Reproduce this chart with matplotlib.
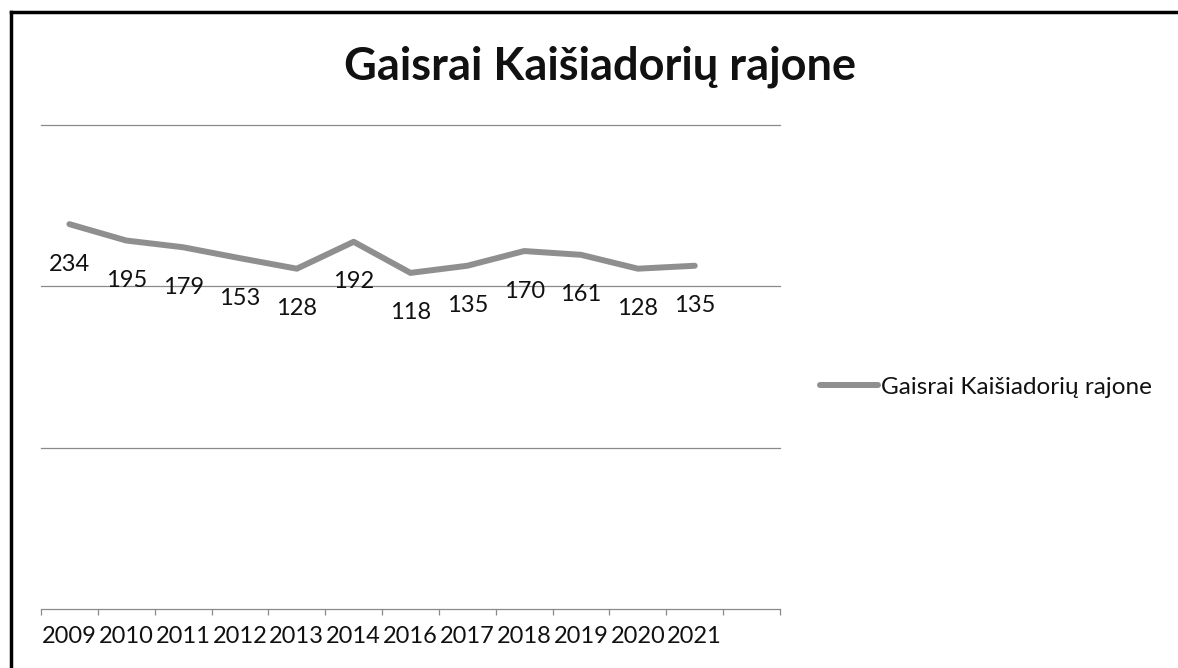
import numpy as np
import matplotlib.pyplot as plt
from matplotlib.lines import Line2D

# duomenys
years = ['2009', '2010', '2011', '2012', '2013', '2014',
         '2016', '2017', '2018', '2019', '2020', '2021']
fires = [234, 195, 179, 153, 128, 192, 118, 135, 170, 161, 128, 135]
title = 'Gaisrai Kaišiadorių rajone'

y_lo, y_hi = -682, 470
line_col = '#8f8f8f'
grid_col = '#8a8a8a'

plt.rcParams['font.family'] = ['Lato', 'DejaVu Sans']

fig = plt.figure(figsize=(11.78, 6.68), dpi=100)
ax = fig.add_axes([41/1178, 1 - 609/668, (780 - 41)/1178, (609 - 125)/668])

x = np.arange(len(years))
ax.plot(x, fires, color=line_col, lw=4.3, solid_capstyle='round',
        solid_joinstyle='round', label=title)

for xi, v in zip(x, fires):
    ax.annotate(str(v), (xi, v), xytext=(0, -40), textcoords='offset pixels',
                ha='center', va='center', fontsize=17, color='#111111')

ax.set_xlim(-0.5, 12.5)
ax.set_ylim(y_lo, y_hi)

# tinklelis
for g in np.linspace(y_lo, y_hi, 4)[1:]:
    ax.axhline(g, color=grid_col, lw=0.9, zorder=0, clip_on=False)

ax.set_xticks(x)
ax.set_xticklabels(years, fontsize=17, color='#111111')
ax.set_xticks(np.arange(-0.5, 13, 1), minor=True)
ax.tick_params(axis='x', which='major', length=0, pad=12.5)
ax.tick_params(axis='x', which='minor', length=4.5, color=grid_col, width=0.9)
ax.set_yticks([])
for s in ['top', 'right', 'left']:
    ax.spines[s].set_visible(False)
ax.spines['bottom'].set_color(grid_col)
ax.spines['bottom'].set_linewidth(0.9)

fig.suptitle(title, x=600/1178, y=1 - 67/668, va='center',
             fontsize=32.5, fontweight='bold', color='#111111')

fig.legend(loc='center left', bbox_to_anchor=(820/1178, 1 - 387/668),
           frameon=False, fontsize=17.5, handlelength=2.4, handletextpad=0.1,
           borderpad=0, borderaxespad=0, labelcolor='#111111')

# remelis
fig.add_artist(Line2D([11/1178, 1], [1 - 12/668, 1 - 12/668],
                      transform=fig.transFigure, color='black', lw=2.5))
fig.add_artist(Line2D([11/1178, 11/1178], [0, 1 - 12/668],
                      transform=fig.transFigure, color='black', lw=2.5))

fig.savefig('out.png', dpi=100)
